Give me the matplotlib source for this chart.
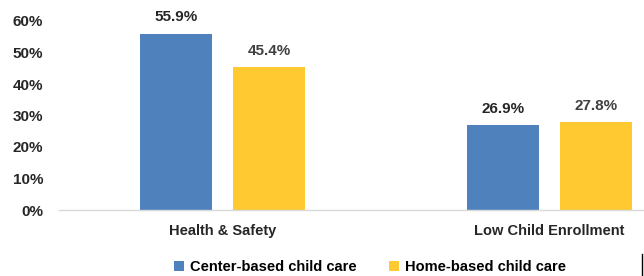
import matplotlib
matplotlib.use("Agg")
import matplotlib.pyplot as plt
import numpy as np
from matplotlib.lines import Line2D

categories = ["Health & Safety", "Low Child Enrollment"]
series_names = ["Center-based child care", "Home-based child care"]
center_vals = [55.9, 26.9]
home_vals = [45.4, 27.8]
yticks = [0, 10, 20, 30, 40, 50, 60]

blue = "#4F81BD"
yellow = "#FFC931"

plt.rcParams['font.family'] = ['Liberation Sans', 'DejaVu Sans']
plt.rcParams['font.weight'] = 'bold'
fs = 11

fig = plt.figure(figsize=(6.44, 2.76), dpi=100)
# the reference is cropped on the right, so the axes run past the figure edge
ax = fig.add_axes([59 / 644, 1 - 210 / 276, 654 / 644, 189 / 276])

x = np.arange(len(categories))
w = 0.22
off = 0.142
b1 = ax.bar(x - off, center_vals, w, color=blue, label=series_names[0])
b2 = ax.bar(x + off, home_vals, w, color=yellow, label=series_names[1])

for rect, v in zip(b1, center_vals):
    ax.text(rect.get_x() + rect.get_width() / 2, v + 3, "%.1f%%" % v,
            ha="center", va="bottom", fontsize=fs, fontweight="bold", color="#262626")
for rect, v in zip(b2, home_vals):
    ax.text(rect.get_x() + rect.get_width() / 2, v + 3, "%.1f%%" % v,
            ha="center", va="bottom", fontsize=fs, fontweight="bold", color="#404040")

ax.set_xlim(-0.5, 1.5)
ax.set_ylim(0, 60)
ax.set_yticks(yticks)
ax.set_yticklabels(["%d%%" % t for t in yticks], fontsize=fs, fontweight="bold", color="#262626")
ax.set_xticks(x)
ax.set_xticklabels(categories, fontsize=10.5, fontweight="bold", color="#262626")
ax.tick_params(axis="both", length=0)
ax.tick_params(axis="y", pad=11.5)
ax.tick_params(axis="x", pad=10)
for s in ["top", "right", "left"]:
    ax.spines[s].set_visible(False)
ax.spines["bottom"].set_color("#D9D9D9")
ax.spines["bottom"].set_linewidth(1)

fig.legend(handles=[b1, b2], labels=series_names, loc="center",
           bbox_to_anchor=(370 / 644, 1 - 267 / 276), ncol=2, frameon=False,
           handlelength=0.7, handleheight=0.7, handletextpad=0.4,
           columnspacing=2.2, prop={'weight': 'bold', 'size': 10.5})

# small border stub at the lower right of the crop
fig.add_artist(Line2D([642 / 644, 642 / 644], [0, 1 - 254 / 276], color="black", lw=1))

fig.savefig("out.png", dpi=100)
